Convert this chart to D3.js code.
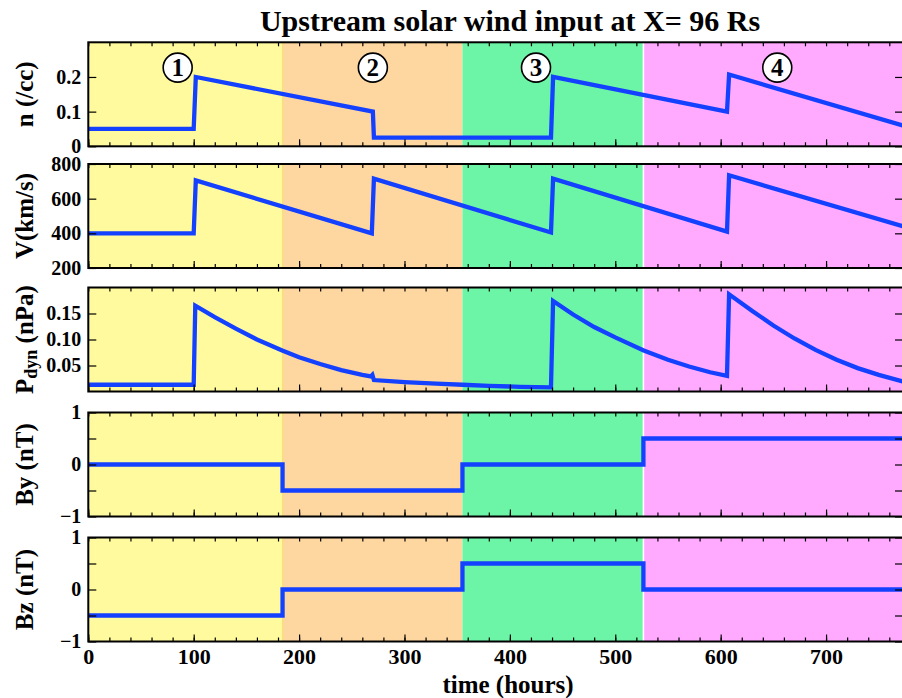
<!DOCTYPE html>
<html>
<head>
<meta charset="utf-8">
<script src="https://cdn.jsdelivr.net/npm/d3@7"></script>
<style>
    body { margin: 0; background: #fff; }
    svg text { font-family: 'Liberation Serif', 'DejaVu Serif', serif; font-weight: bold; fill: #000; }
</style>
</head>
<body>
<svg class="sw-svg"></svg>
<script>

const titleText = 'Upstream solar wind input at X= 96 Rs'
const xTitle = 'time (hours)'
const tMax = 773

// the four intervals (hours) and their fills
const intervalEdges = [0, 184.3, 355, 526.7, 773]
const intervalColors = ['#fffa9e', '#fed7a0', '#6cf5a6', '#ffaaff']
const intervalLabels = ['1', '2', '3', '4']
const labelHours = [84.8, 270, 424.8, 653.7]
const labelN = 0.227

// [hours, value]
const nSeries = [
    [0, 0.05], [100, 0.05], [102, 0.2], [270, 0.1], [271, 0.025], [439, 0.025],
    [441, 0.2], [606, 0.1], [608, 0.207], [773, 0.06]
]
const vSeries = [
    [0, 400], [100, 400], [102, 705], [269, 400], [271, 715], [439, 405],
    [441, 715], [606, 410], [608, 735], [773, 440]
]
const pdynSeries = [
    [0, 0.013], [100, 0.013], [101.5, 0.165], [120, 0.143], [140, 0.121], [160, 0.100],
    [184, 0.079], [200, 0.066], [220, 0.053], [240, 0.041], [260, 0.032], [268, 0.029],
    [269.5, 0.032], [271, 0.022], [300, 0.018], [330, 0.015], [355, 0.013], [380, 0.011],
    [410, 0.009], [439, 0.008], [441, 0.174], [460, 0.148], [480, 0.124], [500, 0.104],
    [527, 0.079], [550, 0.061], [570, 0.048], [590, 0.037], [606, 0.030], [608, 0.187],
    [630, 0.155], [650, 0.127], [670, 0.102], [690, 0.080], [710, 0.061], [730, 0.045],
    [750, 0.032], [773, 0.019]
]
const bySeries = [
    [0, 0], [184.3, 0], [184.3, -0.5], [355, -0.5], [355, 0], [526.7, 0], [526.7, 0.5], [773, 0.5]
]
const bzSeries = [
    [0, -0.5], [184.3, -0.5], [184.3, 0], [355, 0], [355, 0.5], [526.7, 0.5], [526.7, 0], [773, 0]
]

const xMajor = d3.range(0, 701, 100)
const xMinor = d3.range(0, 771, 20)

const panels = [
    { data : nSeries, domain : [0, 0.3], ticks : [0, 0.1, 0.2], fmt : d => d === 0 ? '0' : d3.format('.1f')(d),
      label : [['n (/cc)', 0]] },
    { data : vSeries, domain : [200, 800], ticks : [200, 400, 600, 800], fmt : d3.format('d'),
      label : [['V(km/s)', 0]] },
    { data : pdynSeries, domain : [0, 0.2], ticks : [0.05, 0.1, 0.15], fmt : d3.format('.2f'),
      label : [['P', 0], ['dyn', 1], [' (nPa)', 0]] },
    { data : bySeries, domain : [-1, 1], ticks : [-1, -0.5, 0, 0.5, 1], fmt : d => Math.abs(d) === 0.5 ? '' : d3.format('d')(d),
      label : [['By (nT)', 0]] },
    { data : bzSeries, domain : [-1, 1], ticks : [-1, -0.5, 0, 0.5, 1], fmt : d => Math.abs(d) === 0.5 ? '' : d3.format('d')(d),
      label : [['Bz (nT)', 0]] }
]

const draw = () => {

    const width = 902
    const height = 698
    const left = 88.3
    const right = 903
    const panelTops = [42.3, 164, 287.5, 412.5, 537.5]
    const ph = 104

    const svg = d3.select('.sw-svg')
        .attr('width', width)
        .attr('height', height)

    const x = d3.scaleLinear().domain([0, tMax]).range([0, right - left])
    const pw = right - left

    svg.append('defs')
        .append('clipPath')
        .attr('id', 'pclip')
        .append('rect')
        .attr('width', pw)
        .attr('height', ph)

    svg.append('text')
        .attr('x', 510)
        .attr('y', 31)
        .attr('text-anchor', 'middle')
        .style('font-size', '30px')
        .text(titleText)

    panels.forEach((p, i) => {

        const g = svg.append('g')
            .attr('transform', `translate(${left},${panelTops[i]})`)

        const y = d3.scaleLinear().domain(p.domain).range([ph, 0])

        // coloured intervals
        g.selectAll('rect.iv')
            .data(intervalColors)
            .enter()
            .append('rect')
            .attr('class', 'iv')
            .attr('x', (d, k) => x(intervalEdges[k]))
            .attr('width', (d, k) => x(intervalEdges[k + 1]) - x(intervalEdges[k]))
            .attr('y', 0)
            .attr('height', ph)
            .attr('fill', d => d)

        g.append('line')
            .attr('x1', x(intervalEdges[1])).attr('x2', x(intervalEdges[1]))
            .attr('y1', 0).attr('y2', ph)
            .attr('stroke', '#f6e274').attr('stroke-width', 1.2)

        g.append('line')
            .attr('x1', x(intervalEdges[3])).attr('x2', x(intervalEdges[3]))
            .attr('y1', 0).attr('y2', ph)
            .attr('stroke', '#fff').attr('stroke-width', 1.6)

        const line = d3.line()
            .x(d => x(d[0]))
            .y(d => y(d[1]))

        g.append('path')
            .datum(p.data)
            .attr('d', line)
            .attr('clip-path', 'url(#pclip)')
            .attr('fill', 'none')
            .attr('stroke', '#1440ff')
            .attr('stroke-width', 4.3)
            .attr('stroke-linejoin', 'miter')

        // ticks on all four sides, pointing in
        g.append('g')
            .call(d3.axisLeft(y).tickValues(p.ticks).tickFormat(p.fmt).tickSize(-8).tickPadding(7))
        g.append('g')
            .attr('transform', `translate(${pw},0)`)
            .call(d3.axisRight(y).tickValues(p.ticks).tickFormat('').tickSize(-8))
        g.append('g')
            .call(d3.axisTop(x).tickValues(xMinor).tickFormat('').tickSize(-4))
        g.append('g')
            .attr('transform', `translate(0,${ph})`)
            .call(d3.axisBottom(x).tickValues(xMinor).tickFormat('').tickSize(-4))
        g.append('g')
            .attr('transform', `translate(0,${ph})`)
            .call(d3.axisBottom(x).tickValues(xMajor).tickFormat(i === panels.length - 1 ? d3.format('d') : '').tickSize(-7).tickPadding(7))
            .selectAll('text')
            .style('font-size', '22px')

        g.selectAll('.domain').remove()
        g.selectAll('.tick line').attr('stroke', '#000').attr('stroke-width', 1.2)
        g.selectAll('.tick text')
            .attr('fill', '#000')
            .style('font-family', "'Liberation Serif', serif")
            .style('font-weight', 'bold')
        g.selectAll('g').attr('font-size', null)
        g.selectAll('.tick text').filter(function () { return this.style.fontSize === '' }).style('font-size', '20px')

        g.append('rect')
            .attr('width', pw)
            .attr('height', ph)
            .attr('fill', 'none')
            .attr('stroke', '#000')
            .attr('stroke-width', 2)

        // y title
        const yt = svg.append('text')
            .attr('transform', `translate(33,${panelTops[i] + ph / 2}) rotate(-90)`)
            .attr('text-anchor', 'middle')
            .style('font-size', '25px')

        p.label.forEach(([s, sub]) => {
            const t = yt.append('tspan').text(s)
            if (sub) t.style('font-size', '18px').attr('dy', 4)
            else if (yt.selectAll('tspan').size() > 1) t.attr('dy', -4)
        })

        // numbered circles on the density panel
        if (i === 0) {
            const c = g.selectAll('g.num')
                .data(intervalLabels)
                .enter()
                .append('g')
                .attr('class', 'num')
                .attr('transform', (d, k) => `translate(${x(labelHours[k])},${y(labelN)})`)
            c.append('circle')
                .attr('r', 14.5)
                .attr('fill', '#fff')
                .attr('stroke', '#000')
                .attr('stroke-width', 1.6)
            c.append('text')
                .attr('text-anchor', 'middle')
                .attr('dy', '0.35em')
                .style('font-size', '25px')
                .text(d => d)
        }
    })

    svg.append('text')
        .attr('x', 508)
        .attr('y', 693)
        .attr('text-anchor', 'middle')
        .style('font-size', '25px')
        .text(xTitle)

}

draw()
</script>
</body>
</html>
